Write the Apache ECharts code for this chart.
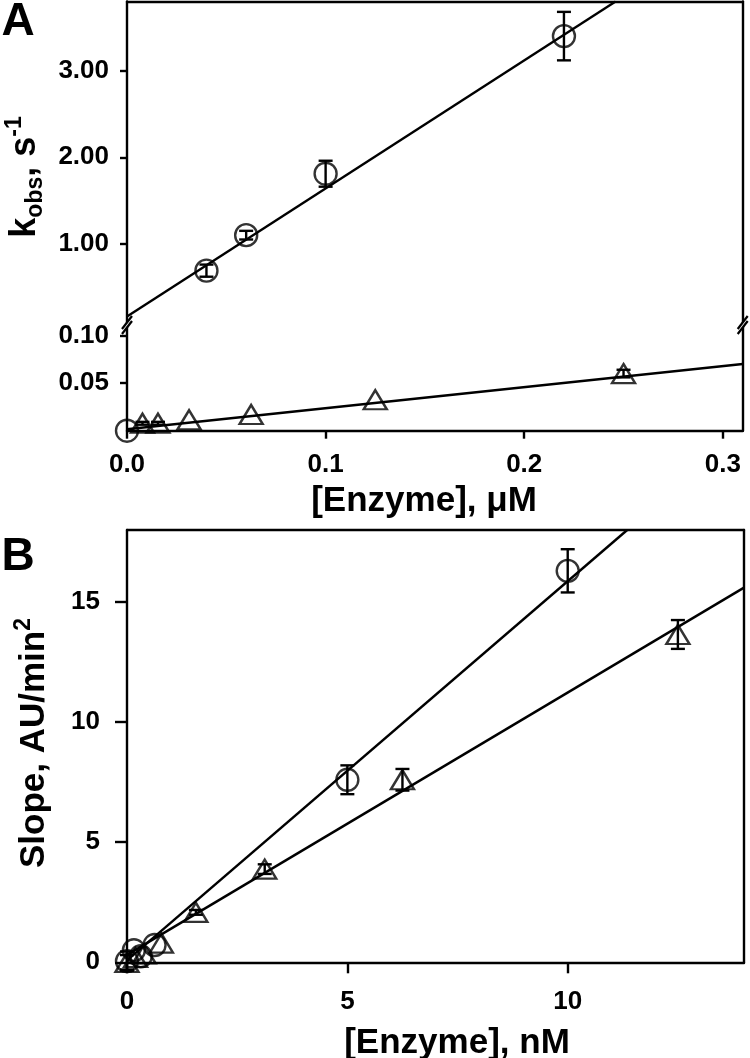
<!DOCTYPE html>
<html>
<head>
<meta charset="utf-8">
<script src="https://cdn.jsdelivr.net/npm/echarts@6/dist/echarts.min.js"></script>
<style>
html,body{margin:0;padding:0;background:#fff;}
#chart{width:750px;height:1058px;}
</style>
</head>
<body>
<div id="chart"></div>
<script>
// ---------- Panel A data ----------
const aCircleX = [0.04, 0.06, 0.10, 0.22];
const aCircleY = [0.69, 1.10, 1.81, 3.40];
const aCircleErr = [0.07, 0.05, 0.15, 0.28];
const aOriginCircleX = [0];
const aOriginCircleY = [0];
const aTriX = [0.0078, 0.0156, 0.03125, 0.0625, 0.125, 0.25];
const aTriY = [0.0078, 0.0078, 0.0115, 0.017, 0.0325, 0.060];
const aTriErr = [0.0015, 0.0015, 0, 0, 0, 0.004];
const aFitCircleX = [0, 0.246];
const aFitCircleY = [0.16, 3.80];
const aFitTriX = [0, 0.31];
const aFitTriY = [0.0015, 0.0700];
const aXTicks = [0, 0.1, 0.2, 0.3];
const aYTicksUpper = [1, 2, 3];
const aYTicksLower = [0.05, 0.10];

// ---------- Panel B data ----------
const bCircleX = [0, 0.156, 0.3125, 0.625, 5, 10];
const bCircleY = [0.05, 0.50, 0.25, 0.72, 7.60, 16.30];
const bCircleErr = [0.40, 0, 0, 0, 0.60, 0.90];
const bTriX = [0, 0.195, 0.39, 0.78, 1.5625, 3.125, 6.25, 12.5];
const bTriY = [0, 0.20, 0.35, 0.80, 2.08, 3.88, 7.60, 13.65];
const bTriErr = [0.30, 0, 0, 0, 0.10, 0.20, 0.45, 0.60];
const bFitCircleX = [0, 11.35];
const bFitCircleY = [0.08, 18.0];
const bFitTriX = [0, 14];
const bFitTriY = [0.31, 15.6];
const bXTicks = [0, 5, 10];
const bYTicks = [0, 5, 10, 15];

// ---------- helpers ----------
const FONT = 'Liberation Sans';
const BLACK = '#000';
const LW = 2.4;
const zip = (xs, ys) => xs.map((x, i) => [x, ys[i]]);
const zip3 = (xs, ys, es) => xs.map((x, i) => [x, ys[i], es[i]]).filter(d => d[2] > 0);

const lineOnly = { show: true, onZero: false, lineStyle: { color: BLACK, width: 2.4 } };
const noSplit = { show: false };
const labelFont = { color: BLACK, fontFamily: FONT, fontWeight: 'bold', fontSize: 26 };

function bareAxis(gridIndex, position, min, max) {
  return {
    type: 'value', gridIndex, position, min, max,
    axisLine: lineOnly, axisTick: { show: false }, axisLabel: { show: false },
    splitLine: noSplit
  };
}
function mainAxis(gridIndex, position, min, max, ticks, fmt, tickLen, margin) {
  return {
    type: 'value', gridIndex, position, min, max,
    axisLine: lineOnly,
    axisTick: { show: true, inside: false, length: tickLen, customValues: ticks,
                lineStyle: { color: BLACK, width: 2.4 } },
    axisLabel: Object.assign({ show: true, customValues: ticks, formatter: fmt, margin }, labelFont),
    splitLine: noSplit
  };
}

function errorBar(xi, yi, data) {
  return {
    type: 'custom', xAxisIndex: xi, yAxisIndex: yi, data, z: 3,
    encode: { x: 0, y: 1 },
    renderItem: function (params, api) {
      const x = api.value(0), y = api.value(1), e = api.value(2);
      const t = api.coord([x, y + e]);
      const b = api.coord([x, y - e]);
      const hw = 7;
      const st = { stroke: BLACK, lineWidth: LW };
      return {
        type: 'group', children: [
          { type: 'line', shape: { x1: t[0], y1: t[1], x2: b[0], y2: b[1] }, style: st },
          { type: 'line', shape: { x1: t[0] - hw, y1: t[1], x2: t[0] + hw, y2: t[1] }, style: st },
          { type: 'line', shape: { x1: b[0] - hw, y1: b[1], x2: b[0] + hw, y2: b[1] }, style: st }
        ]
      };
    }
  };
}
function fitLine(xi, yi, xs, ys) {
  return {
    type: 'line', xAxisIndex: xi, yAxisIndex: yi, data: zip(xs, ys),
    showSymbol: false, symbol: 'none', silent: true, z: 2, clip: true,
    lineStyle: { color: BLACK, width: LW }
  };
}
function marks(xi, yi, xs, ys, symbol, size) {
  return {
    type: 'scatter', xAxisIndex: xi, yAxisIndex: yi, data: zip(xs, ys),
    symbol, symbolSize: size, z: 4, clip: false,
    itemStyle: { color: 'rgba(0,0,0,0)', borderColor: BLACK, borderWidth: LW }
  };
}

// ---------- layout ----------
const A_LEFT = 127, A_RIGHT = 742.7, A_TOP = 1.5, A_BREAK = 325, A_BOTTOM = 430.7;
const B_LEFT = 127, B_RIGHT = 744, B_TOP = 530, B_BOTTOM = 962.3;
const W = 750;

function breakMark(x, y) {
  const st = { stroke: BLACK, lineWidth: 2.2 };
  return [
    { type: 'polygon', shape: { points: [[x - 5, y + 9], [x + 5, y - 4], [x + 5, y - 9], [x - 5, y + 4]] },
      style: { fill: '#fff' }, z: 100 },
    { type: 'line', shape: { x1: x - 5, y1: y + 9, x2: x + 5, y2: y - 4 }, style: st, z: 101 },
    { type: 'line', shape: { x1: x - 5, y1: y + 4, x2: x + 5, y2: y - 9 }, style: st, z: 101 }
  ];
}

const titleFont = { fontFamily: FONT, fontWeight: 'bold', fill: BLACK };

const option = {
  animation: false,
  backgroundColor: '#fff',
  grid: [
    { left: A_LEFT, right: W - A_RIGHT, top: A_TOP, height: A_BREAK - A_TOP, containLabel: false, outerBoundsMode: 'none' },
    { left: A_LEFT, right: W - A_RIGHT, top: A_BREAK, height: A_BOTTOM - A_BREAK, containLabel: false, outerBoundsMode: 'none' },
    { left: B_LEFT, right: W - B_RIGHT, top: B_TOP, height: B_BOTTOM - B_TOP, containLabel: false, outerBoundsMode: 'none' }
  ],
  xAxis: [
    bareAxis(0, 'top', 0, 0.31),
    mainAxis(1, 'bottom', 0, 0.31, aXTicks, v => v.toFixed(1), 8, 21),
    mainAxis(2, 'bottom', 0, 14, bXTicks, v => String(v), 11, 27),
    bareAxis(2, 'top', 0, 14)
  ],
  yAxis: [
    mainAxis(0, 'left', 0.062, 3.8, aYTicksUpper, v => v.toFixed(2), 7, 18),
    bareAxis(0, 'right', 0.062, 3.8),
    mainAxis(1, 'left', 0, 0.111, aYTicksLower, v => v.toFixed(2), 7, 18),
    bareAxis(1, 'right', 0, 0.111),
    mainAxis(2, 'left', 0, 18, bYTicks, v => String(v), 12, 27),
    bareAxis(2, 'right', 0, 18)
  ],
  series: [
    // Panel A upper
    fitLine(0, 0, aFitCircleX, aFitCircleY),
    errorBar(0, 0, zip3(aCircleX, aCircleY, aCircleErr)),
    marks(0, 0, aCircleX, aCircleY, 'circle', 22),
    // Panel A lower
    fitLine(1, 2, aFitTriX, aFitTriY),
    errorBar(1, 2, zip3(aTriX, aTriY, aTriErr)),
    marks(1, 2, aTriX, aTriY, 'triangle', [23, 19]),
    marks(1, 2, aOriginCircleX, aOriginCircleY, 'circle', 22),
    // Panel B
    fitLine(2, 4, bFitCircleX, bFitCircleY),
    fitLine(2, 4, bFitTriX, bFitTriY),
    errorBar(2, 4, zip3(bCircleX, bCircleY, bCircleErr)),
    errorBar(2, 4, zip3(bTriX, bTriY, bTriErr)),
    marks(2, 4, bCircleX, bCircleY, 'circle', 22),
    marks(2, 4, bTriX, bTriY, 'triangle', [23, 19])
  ],
  graphic: [].concat(
    breakMark(A_LEFT, A_BREAK),
    breakMark(A_RIGHT, A_BREAK),
    [
      { type: 'text', x: 18, y: 22, z: 100,
        style: Object.assign({ text: 'A', fontSize: 46, align: 'center', verticalAlign: 'middle' }, titleFont) },
      { type: 'text', x: 18, y: 557, z: 100,
        style: Object.assign({ text: 'B', fontSize: 46, align: 'center', verticalAlign: 'middle' }, titleFont) },
      { type: 'text', x: 424, y: 501, z: 100,
        style: Object.assign({ text: '[Enzyme], \u03bcM', fontSize: 35, align: 'center', verticalAlign: 'middle' }, titleFont) },
      { type: 'text', x: 457, y: 1043, z: 100,
        style: Object.assign({ text: '[Enzyme], nM', fontSize: 35, align: 'center', verticalAlign: 'middle' }, titleFont) },
      { type: 'text', x: 25, y: 177, rotation: Math.PI / 2, z: 100,
        style: {
          text: '{m|k}{sub|obs}{m|, s}{sup|-1}', align: 'center', verticalAlign: 'middle',
          rich: {
            m: { fontSize: 36, fontFamily: FONT, fontWeight: 'bold', fill: BLACK, lineHeight: 44 },
            sub: { fontSize: 23, fontFamily: FONT, fontWeight: 'bold', fill: BLACK, lineHeight: 18, verticalAlign: 'bottom' },
            sup: { fontSize: 23, fontFamily: FONT, fontWeight: 'bold', fill: BLACK, lineHeight: 18, verticalAlign: 'top' }
          }
        } },
      { type: 'text', x: 34, y: 743, rotation: Math.PI / 2, z: 100,
        style: {
          text: '{m|Slope, AU/min}{sup|2}', align: 'center', verticalAlign: 'middle',
          rich: {
            m: { fontSize: 35, fontFamily: FONT, fontWeight: 'bold', fill: BLACK, lineHeight: 44 },
            sup: { fontSize: 23, fontFamily: FONT, fontWeight: 'bold', fill: BLACK, lineHeight: 18, verticalAlign: 'top' }
          }
        } }
    ]
  )
};

const chart = echarts.init(document.getElementById('chart'), null, { renderer: 'canvas' });
chart.setOption(option);
</script>
</body>
</html>
